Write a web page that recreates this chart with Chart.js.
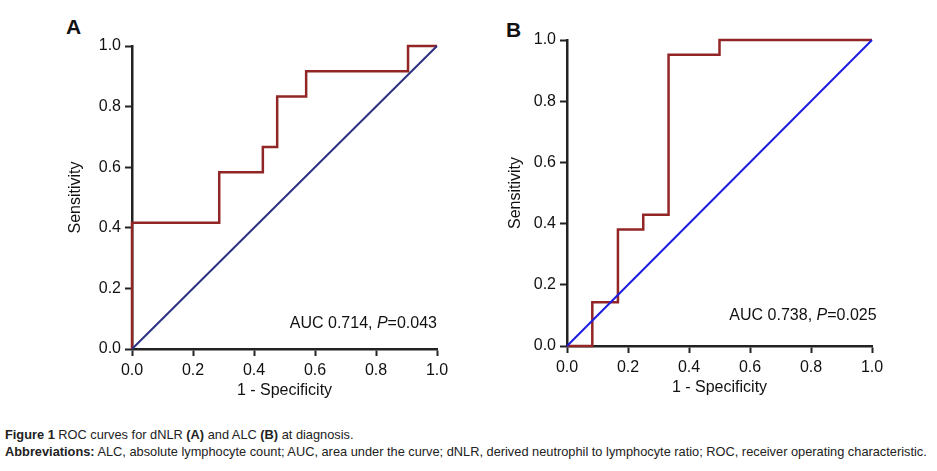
<!DOCTYPE html>
<html lang="en">
<head>
  <meta charset="UTF-8" />
  <title>ROC curves for dNLR and ALC</title>
  <script src="https://cdn.jsdelivr.net/npm/chart.js"></script>
  <style>
    body {
      margin: 0;
      width: 937px;
      height: 471px;
      background: #fff;
      position: relative;
      overflow: hidden;
      font-family: "Liberation Sans", Arial, sans-serif;
    }
    .box { position: absolute; }
    .panel {
      position: absolute;
      font: bold 21px "Liberation Sans", Arial, sans-serif;
      color: #111;
    }
    .cap {
      position: absolute;
      left: 5px;
      white-space: nowrap;
      font-family: "Liberation Sans", Arial, sans-serif;
      font-size: 12.8px;
      color: #222;
    }
  </style>
</head>
<body>
  <div class="panel" style="left:66px; top:15px;">A</div>
  <div class="panel" style="left:506px; top:18px;">B</div>

  <div class="box" style="left:0; top:0; width:470px; height:415px;"><canvas id="chartA"></canvas></div>
  <div class="box" style="left:470px; top:0; width:467px; height:415px;"><canvas id="chartB"></canvas></div>

  <div class="cap" style="top:427px;"><b>Figure 1</b> ROC curves for dNLR <b>(A)</b> and ALC <b>(B)</b> at diagnosis.</div>
  <div class="cap" style="top:444px;"><b>Abbreviations:</b> ALC, absolute lymphocyte count; AUC, area under the curve; dNLR, derived neutrophil to lymphocyte ratio; ROC, receiver operating characteristic.</div>

  <script>
    // ROC corner points (1 - specificity, sensitivity)
    const fprA = [0, 0, 0.286, 0.286, 0.429, 0.429, 0.476, 0.476, 0.571, 0.571, 0.905, 0.905, 1];
    const tprA = [0, 0.417, 0.417, 0.583, 0.583, 0.667, 0.667, 0.833, 0.833, 0.917, 0.917, 1, 1];

    const fprB = [0, 0.083, 0.083, 0.167, 0.167, 0.25, 0.25, 0.333, 0.333, 0.5, 0.5, 1];
    const tprB = [0, 0, 0.143, 0.143, 0.381, 0.381, 0.429, 0.429, 0.952, 0.952, 1, 1];

    // reference line
    const diagX = [0, 1];
    const diagY = [0, 1];

    const tickValues = [0, 0.2, 0.4, 0.6, 0.8, 1.0];

    const aucA = { auc: '0.714', p: '0.043', x: 1.0, y: 0.083 };
    const aucB = { auc: '0.738', p: '0.025', x: 1.015, y: 0.10 };

    const toPoints = (xs, ys) => xs.map((x, i) => ({ x: x, y: ys[i] }));

    // draws "AUC x, P=y" with italic P, right aligned at a data position
    const aucLabel = {
      id: 'aucLabel',
      afterDatasetsDraw(chart, args, opts) {
        const ctx = chart.ctx;
        const right = chart.scales.x.getPixelForValue(opts.x);
        const yy = chart.scales.y.getPixelForValue(opts.y);
        const normal = '16px "Liberation Sans", Arial, sans-serif';
        const italic = 'italic 16px "Liberation Sans", Arial, sans-serif';
        const parts = [
          ['AUC ' + opts.auc + ', ', normal],
          ['P', italic],
          ['=' + opts.p, normal]
        ];
        ctx.save();
        let total = 0;
        parts.forEach(p => { ctx.font = p[1]; total += ctx.measureText(p[0]).width; });
        let x = right - total;
        ctx.fillStyle = '#111';
        ctx.textBaseline = 'middle';
        parts.forEach(p => {
          ctx.font = p[1];
          ctx.fillText(p[0], x, yy);
          x += ctx.measureText(p[0]).width;
        });
        ctx.restore();
      }
    };

    function makeChart(id, fpr, tpr, diagColor, auc, pad, yWidth) {
      const axisFont = { family: '"Liberation Sans", Arial, sans-serif', size: 16 };
      const common = {
        type: 'linear',
        min: 0,
        max: 1,
        afterBuildTicks: s => { s.ticks = tickValues.map(v => ({ value: v })); },
        ticks: {
          color: '#111',
          font: axisFont,
          callback: v => Number(v).toFixed(1)
        },
        grid: {
          display: true,
          drawOnChartArea: false,
          drawTicks: true,
          tickLength: 7,
          tickWidth: 2,
          tickColor: '#222'
        },
        border: { display: true, color: '#222', width: 2.5 }
      };
      return new Chart(document.getElementById(id), {
        type: 'scatter',
        data: {
          datasets: [
            {
              data: toPoints(diagX, diagY),
              showLine: true,
              borderColor: diagColor,
              borderWidth: 2,
              pointRadius: 0,
              clip: false
            },
            {
              data: toPoints(fpr, tpr),
              showLine: true,
              borderColor: '#922626',
              borderWidth: 2.5,
              pointRadius: 0,
              clip: false
            }
          ]
        },
        options: {
          responsive: true,
          maintainAspectRatio: false,
          animation: false,
          layout: { padding: pad },
          plugins: {
            legend: { display: false },
            tooltip: { enabled: false },
            aucLabel: auc
          },
          scales: {
            x: Object.assign({}, common, {
              ticks: Object.assign({}, common.ticks, { padding: 5, maxRotation: 0 }),
              title: { display: true, text: '1 - Specificity', color: '#111', font: axisFont, padding: { top: 2 } },
              afterFit: s => { s.height = 55; }
            }),
            y: Object.assign({}, common, {
              ticks: Object.assign({}, common.ticks, { padding: 4 }),
              title: { display: true, text: 'Sensitivity', color: '#111', font: axisFont, padding: 4 },
              afterFit: s => { s.width = yWidth; }
            })
          }
        },
        plugins: [aucLabel]
      });
    }

    makeChart('chartA', fprA, tprA, '#2d3181', aucA, { left: 62, right: 33, top: 46, bottom: 11 }, 70);
    makeChart('chartB', fprB, tprB, '#1c1ce0', aucB, { left: 32, right: 65, top: 40, bottom: 14 }, 65);
  </script>
</body>
</html>
